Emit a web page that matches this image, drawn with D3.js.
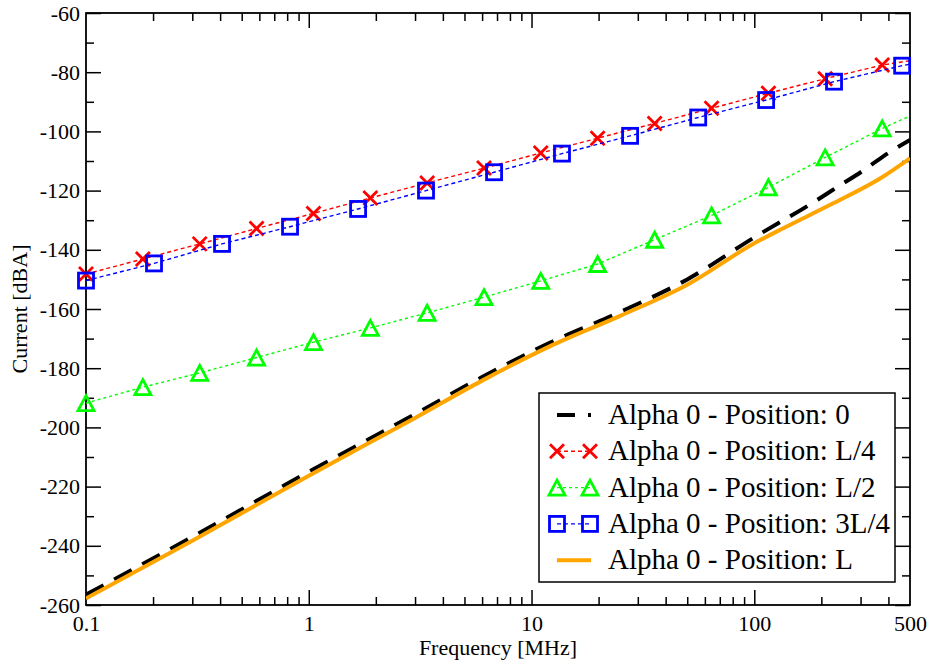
<!DOCTYPE html>
<html>
<head>
<meta charset="utf-8">
<script src="https://cdn.jsdelivr.net/npm/d3@7"></script>
<style>
  html, body { margin: 0; padding: 0; background: #fff; }
  svg { display: block; }
</style>
</head>
<body>
<svg id="chart" width="932" height="664"></svg>
<script>
// ---------------- data ----------------
const xTickLabels = [0.1, 1, 10, 100, 500];
const yTickValues = [-260, -240, -220, -200, -180, -160, -140, -120, -100, -80, -60];

// Position 0 (black dashed)
const freq0 = [0.1, 0.3, 1, 3, 6, 12, 25, 50, 100, 183, 237, 303, 378, 500];
const pos0 = [-256.5, -237, -215, -195.5, -183, -171.5, -161, -150, -135.8, -124.1, -118.7, -113.6, -108.5, -102.9];
// Position L (orange solid)
const freqL = [0.1, 0.3, 1, 3, 6, 12, 25, 50, 100, 135, 226, 378, 500];
const posL = [-257.8, -238.3, -216.3, -196.8, -184.2, -172.7, -162.3, -151.8, -137.8, -132.7, -124.3, -115.3, -109.1];

// Position L/4 (red x) and L/2 (green triangles); last point has no marker
const freqA = [0.1, 0.18, 0.324, 0.583, 1.05, 1.89, 3.4, 6.12, 11.0, 19.8, 35.7, 64.3, 115.7, 208, 375, 500];
const posL4 = [-148.2, -143.1, -138, -132.8, -127.7, -122.5, -117.4, -112.4, -107.3, -102.3, -97.3, -92.2, -87.1, -82.2, -77.6, -76.1];
const posL2 = [-191.8, -186.4, -181.6, -176.4, -171.2, -166.4, -161.3, -156, -150.5, -144.8, -136.6, -128.4, -118.9, -108.8, -99, -94.8];

// Position 3L/4 (blue squares)
const freqB = [0.1, 0.202, 0.408, 0.824, 1.665, 3.36, 6.79, 13.7, 27.7, 56.0, 113, 228, 461, 500];
const pos3L4 = [-150.4, -144.6, -138, -132.2, -126.2, -120, -113.8, -107.5, -101.5, -95.3, -89.4, -83.2, -77.8, -77.3];

const seriesNames = [
  "Alpha 0 - Position: 0",
  "Alpha 0 - Position: L/4",
  "Alpha 0 - Position: L/2",
  "Alpha 0 - Position: 3L/4",
  "Alpha 0 - Position: L"
];

// ---------------- layout ----------------
const FONT = "'Liberation Serif', 'Times New Roman', Times, 'DejaVu Serif', serif";
const L = 86, R = 910, T = 13, B = 605;
const svg = d3.select("#chart");

const x = d3.scaleLog().domain([0.1, 500]).range([L, R]);
const y = d3.scaleLinear().domain([-260, -60]).range([B, T]);

const majorX = [1, 10, 100];
const minorX = [];
[0.1, 1, 10, 100].forEach(d => { for (let k = 2; k <= 9; k++) { const v = d * k; if (v < 500) minorX.push(+v.toPrecision(3)); } });
const minorY = d3.range(-250, -60, 20);

const MAJ = 15, MIN = 8;
const tickStyle = g => {
  g.attr("font-family", FONT).style("font-family", FONT);
  g.select(".domain").remove();
  g.selectAll(".tick line").attr("stroke", "#000").attr("stroke-width", 1.5);
  g.selectAll(".tick text").attr("font-size", 22).style("font-family", FONT).attr("fill", "#000");
};

// bottom axis labels
svg.append("g").attr("transform", `translate(0,${B})`)
  .call(d3.axisBottom(x).tickValues(xTickLabels).tickSize(0).tickFormat(d => String(d)))
  .call(tickStyle)
  .selectAll(".tick text").attr("dy", "0.71em").attr("y", 10);
// bottom ticks
svg.append("g").attr("transform", `translate(0,${B})`)
  .call(d3.axisBottom(x).tickValues(majorX).tickSize(-MAJ).tickFormat("")).call(tickStyle);
svg.append("g").attr("transform", `translate(0,${B})`)
  .call(d3.axisBottom(x).tickValues(minorX).tickSize(-MIN).tickFormat("")).call(tickStyle);
// top ticks
svg.append("g").attr("transform", `translate(0,${T})`)
  .call(d3.axisTop(x).tickValues(majorX).tickSize(-MAJ).tickFormat("")).call(tickStyle);
svg.append("g").attr("transform", `translate(0,${T})`)
  .call(d3.axisTop(x).tickValues(minorX).tickSize(-MIN).tickFormat("")).call(tickStyle);

// left axis
svg.append("g").attr("transform", `translate(${L},0)`)
  .call(d3.axisLeft(y).tickValues(yTickValues).tickSize(-MAJ).tickPadding(6).tickFormat(d => String(d)))
  .call(tickStyle);
svg.append("g").attr("transform", `translate(${L},0)`)
  .call(d3.axisLeft(y).tickValues(minorY).tickSize(-MIN).tickFormat("")).call(tickStyle);
// right axis
svg.append("g").attr("transform", `translate(${R},0)`)
  .call(d3.axisRight(y).tickValues(yTickValues).tickSize(-MAJ).tickFormat("")).call(tickStyle);
svg.append("g").attr("transform", `translate(${R},0)`)
  .call(d3.axisRight(y).tickValues(minorY).tickSize(-MIN).tickFormat("")).call(tickStyle);

// frame
svg.append("rect").attr("x", L).attr("y", T).attr("width", R - L).attr("height", B - T)
  .attr("fill", "none").attr("stroke", "#000").attr("stroke-width", 1.8);

// axis titles
svg.append("text").attr("x", (L + R) / 2).attr("y", 655).attr("text-anchor", "middle")
  .attr("font-size", 22).style("font-family", FONT).text("Frequency [MHz]");
svg.append("text").attr("transform", `translate(27,${(T + B) / 2}) rotate(-90)`).attr("text-anchor", "middle")
  .attr("font-size", 22).style("font-family", FONT).text("Current [dBA]");

// ---------------- series ----------------
const plot = svg.append("g");
plot.append("clipPath").attr("id", "clip").append("rect").attr("x", L).attr("y", T).attr("width", R - L).attr("height", B - T);
const lineGen = d3.line().x(d => x(d[0])).y(d => y(d[1]));
const smoothGen = d3.line().x(d => x(d[0])).y(d => y(d[1])).curve(d3.curveMonotoneX);
const zip = (a, b) => a.map((v, i) => [v, b[i]]);

const styles = [
  { color: "#000000", width: 4, dash: "20,12", marker: null, smooth: true },
  { color: "#ff0000", width: 1.4, dash: "4,3", marker: "x" },
  { color: "#00ff00", width: 1.4, dash: "3,3", marker: "tri" },
  { color: "#0000ff", width: 1.4, dash: "4,3", marker: "sq" },
  { color: "#ffa500", width: 4, dash: null, marker: null, smooth: true }
];
const data = [
  zip(freq0, pos0),
  zip(freqA, posL4),
  zip(freqA, posL2),
  zip(freqB, pos3L4),
  zip(freqL, posL)
];

function drawMarker(g, type, cx, cy, color) {
  if (type === "x") {
    const s = 7;
    g.append("path").attr("d", `M${cx - s},${cy - s}L${cx + s},${cy + s}M${cx - s},${cy + s}L${cx + s},${cy - s}`)
      .attr("stroke", color).attr("stroke-width", 2.8).attr("fill", "none");
  } else if (type === "sq") {
    const s = 7.5;
    g.append("rect").attr("x", cx - s).attr("y", cy - s).attr("width", 2 * s).attr("height", 2 * s)
      .attr("stroke", color).attr("stroke-width", 2.8).attr("fill", "none");
  } else if (type === "tri") {
    const w = 8, h = 7.5;
    g.append("path").attr("d", `M${cx},${cy - h}L${cx + w},${cy + h}L${cx - w},${cy + h}Z`)
      .attr("stroke", color).attr("stroke-width", 2.8).attr("fill", "none").attr("stroke-linejoin", "miter");
  }
}

data.forEach((pts, i) => {
  const st = styles[i];
  const g = plot.append("g");
  g.append("path").attr("d", (st.smooth ? smoothGen : lineGen)(pts)).attr("fill", "none")
    .attr("stroke", st.color).attr("stroke-width", st.width)
    .attr("stroke-dasharray", st.dash).attr("clip-path", "url(#clip)");
  if (st.marker) {
    pts.slice(0, -1).forEach(p => drawMarker(g, st.marker, x(p[0]), y(p[1]), st.color));
  }
});

// ---------------- legend ----------------
const lg = svg.append("g");
lg.append("rect").attr("x", 539).attr("y", 393).attr("width", 356).attr("height", 189)
  .attr("fill", "#fff").attr("stroke", "#000").attr("stroke-width", 1.5);
seriesNames.forEach((name, i) => {
  const st = styles[i];
  const cy = 415 + i * 36.3;
  const x1 = 557, x2 = 591;
  if (i === 0) {
    lg.append("line").attr("x1", x1).attr("x2", x1 + 18).attr("y1", cy).attr("y2", cy).attr("stroke", st.color).attr("stroke-width", 4);
    lg.append("line").attr("x1", x1 + 31).attr("x2", x1 + 34).attr("y1", cy).attr("y2", cy).attr("stroke", st.color).attr("stroke-width", 4);
  } else {
    lg.append("line").attr("x1", x1).attr("x2", x2).attr("y1", cy).attr("y2", cy)
      .attr("stroke", st.color).attr("stroke-width", st.width).attr("stroke-dasharray", st.dash);
  }
  if (st.marker) { drawMarker(lg, st.marker, x1, cy, st.color); drawMarker(lg, st.marker, x2 - 1, cy, st.color); }
  lg.append("text").attr("x", 608).attr("y", cy + 9).attr("font-size", 29).style("font-family", FONT).text(name);
});
</script>
</body>
</html>
